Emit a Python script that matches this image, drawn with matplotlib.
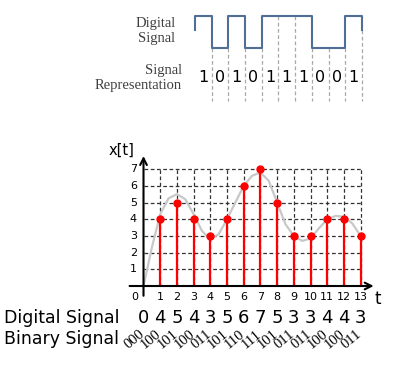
import numpy as np
import matplotlib.pyplot as plt

# sampled signal (stems)
t = np.arange(1, 14)
x = [4, 5, 4, 3, 4, 6, 7, 5, 3, 3, 4, 4, 3]

# analogue curve
curve_t = [0, 0.5, 1, 1.5, 2, 2.5, 3, 3.5, 4, 4.5, 5, 5.5, 6, 6.5, 7, 7.5, 8,
           8.5, 9, 9.5, 10, 10.5, 11, 11.5, 12, 12.5, 13]
curve_x = [0, 2.3, 4.3, 5.25, 5.5, 5.2, 4.3, 3.3, 2.8, 3.1, 4.0, 5.0, 6.0, 6.6,
           6.8, 6.3, 5.0, 3.7, 3.0, 2.7, 2.85, 3.45, 4.0, 4.2, 4.15, 3.75, 3.0]

# bottom rows
digital_vals = ['0', '4', '5', '4', '3', '5', '6', '7', '5', '3', '3', '4', '4', '3']
binary_vals = ['000', '100', '101', '100', '011', '101', '110', '111', '101',
               '011', '011', '100', '100', '011']

# top square wave
bits = [1, 0, 1, 0, 1, 1, 1, 0, 0, 1]

fig = plt.figure(figsize=(3.99, 3.84), dpi=100)
ax = fig.add_axes([0, 0, 1, 1])
ax.set_xlim(-8.593, 15.299)
ax.set_ylim(-5.868, 17.126)
ax.axis('off')

# dashed grid
dash = dict(color='#333333', lw=0.9, ls=(0, (3, 2)), zorder=1)
for v in range(1, 8):
    ax.plot([0, 13], [v, v], **dash)
for k in range(1, 14):
    ax.plot([k, k], [0, 7], **dash)

ax.plot(curve_t, curve_x, color='#c8c8c8', lw=1.6, zorder=2)
ax.vlines(t, 0, x, color='red', lw=1.6, zorder=3)
ax.plot(t, x, 'o', color='red', ms=5, zorder=4)

# axes with arrows
ax.annotate('', xy=(13.95, 0), xytext=(-1.0, 0),
            arrowprops=dict(arrowstyle='->', lw=1.5, color='black', mutation_scale=12))
ax.annotate('', xy=(0, 7.95), xytext=(0, -0.75),
            arrowprops=dict(arrowstyle='->', lw=1.5, color='black', mutation_scale=12))

for k in range(1, 14):
    ax.text(k, -0.66, str(k), ha='center', va='center', fontsize=8)
ax.text(-0.5, -0.66, '0', ha='center', va='center', fontsize=8)
for v in range(1, 8):
    ax.text(-0.6, v, str(v), ha='center', va='center', fontsize=8)
ax.text(-1.3, 8.1, 'x[t]', ha='center', va='center', fontsize=10.5)
ax.text(14.05, -0.75, 't', ha='center', va='center', fontsize=12)

# bottom rows
ax.text(-8.35, -1.92, 'Digital Signal', ha='left', va='center', fontsize=12.5)
for k, s in enumerate(digital_vals):
    ax.text(k, -1.92, s, ha='center', va='center', fontsize=13)
ax.text(-8.35, -3.2, 'Binary Signal', ha='left', va='center', fontsize=12.5)
for k, s in enumerate(binary_vals):
    ax.text(k - 0.55, -3.2, s, ha='center', va='center', fontsize=10.5,
            family='Liberation Serif', rotation=40)

# top digital signal
x0 = 3.08
hi, lo, mid = 16.17, 14.25, 15.33
wx = [x0]
wy = [mid]
for i, b in enumerate(bits):
    lvl = hi if b else lo
    wx += [x0 + i, x0 + i + 1]
    wy += [lvl, lvl]
wx.append(x0 + len(bits))
wy.append(mid)
for i in range(1, len(bits) + 1):
    if i < len(bits):
        top = hi if (bits[i - 1] and bits[i]) else lo
    else:
        top = mid
    ax.plot([x0 + i, x0 + i], [top, 11.1], color='#a8a8a8', lw=0.9,
            ls=(0, (3, 2)), zorder=1)
ax.plot(wx, wy, color='#4f6f96', lw=1.5, zorder=2)
for i, b in enumerate(bits):
    ax.text(x0 + i + 0.5, 12.46, str(b), ha='center', va='center', fontsize=11.5)

ax.text(1.92, 15.27, 'Digital\nSignal', ha='right', va='center', fontsize=10.5,
        family='Liberation Serif', color='#404040', linespacing=1.25)
ax.text(2.31, 12.46, 'Signal\nRepresentation', ha='right', va='center', fontsize=10.5,
        family='Liberation Serif', color='#404040', linespacing=1.25)

fig.savefig('out.png', dpi=100)
